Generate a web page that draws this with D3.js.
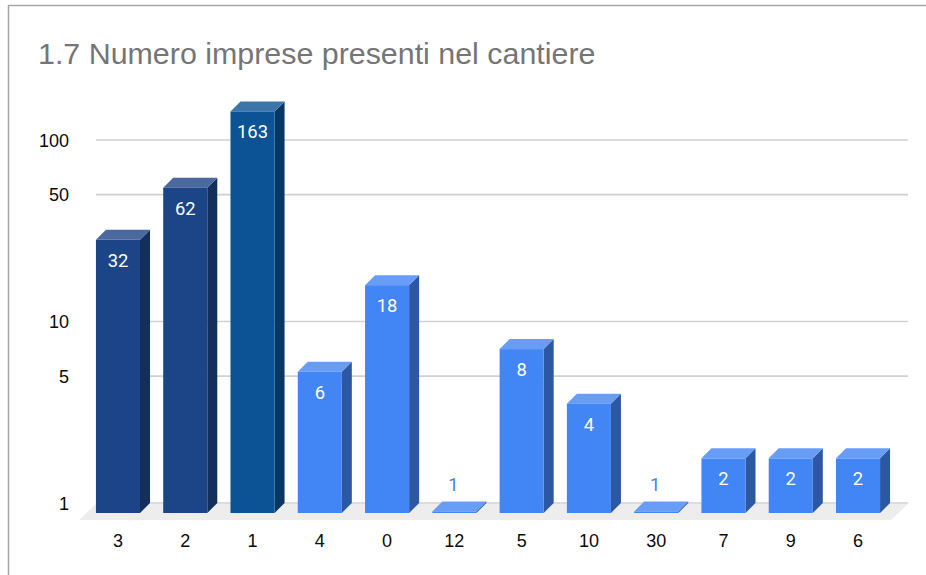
<!DOCTYPE html>
<html><head><meta charset="utf-8">
<script src="https://cdnjs.cloudflare.com/ajax/libs/d3/7.8.5/d3.min.js"></script>
<style>html,body{margin:0;padding:0;background:#fff}svg{display:block}</style></head>
<body><svg id="c" width="926" height="575"></svg>
<script>
const categories=["3","2","1","4","0","12","5","10","30","7","9","6"];
const values=[32,62,163,6,18,1,8,4,1,2,2,2];
const groups=["navy","navy","teal","blue","blue","blue","blue","blue","blue","blue","blue","blue"];
const yTicks=[1,5,10,50,100];
const titleText="1.7 Numero imprese presenti nel cantiere";
const palette={navy:["#1c4587","#4a6a9f","#142f5c"],teal:["#0b5394","#3c75a9","#073763"],blue:["#4285f4","#689df6","#2c57a3"]};

const svg=d3.select("#c");
const dx=10,dy=10;
const x=d3.scaleBand().domain(categories).range([84.5,891.5]).paddingInner(0.345).paddingOuter(0.17);
const y=d3.scaleLog().domain([1,100]).range([513,150]);

// frame
svg.append("path").attr("d","M8.5,575V5.5H926").attr("fill","none").attr("stroke","#a6a6a6").attr("stroke-width",1.5);
svg.append("text").attr("x",38).attr("y",64).attr("font-family","Liberation Sans").attr("font-size",30.4).attr("fill","#757575").text(titleText);

// floor
svg.append("path").attr("d",`M79,520L96,504H908L891,520Z`).attr("fill","#ededed");

// gridlines and y labels
yTicks.forEach(t=>{
  const yy=y(t)-dy;
  svg.append("line").attr("x1",96).attr("x2",908).attr("y1",yy).attr("y2",yy).attr("stroke","#d0d0d0").attr("stroke-width",1.6);
  svg.append("text").attr("x",69).attr("y",yy+6.5).attr("text-anchor","end").attr("font-family","Liberation Sans").attr("font-size",18).attr("fill","#0a0a0a").text(t);
});

// bars
const g=svg.selectAll(".bar").data(categories.map((c,i)=>({c,v:values[i],k:groups[i]}))).join("g");
g.each(function(d){
  const s=d3.select(this),x0=x(d.c),w=x.bandwidth(),top=Math.min(y(d.v),511.5),bot=513,p=palette[d.k];
  s.append("path").attr("d",`M${x0+w},${top}L${x0+w+dx},${top-dy}V${bot-dy}L${x0+w},${bot}Z`).attr("fill",p[2]);
  s.append("path").attr("d",`M${x0},${top}L${x0+dx},${top-dy}H${x0+w+dx}L${x0+w},${top}Z`).attr("fill",p[1]);
  s.append("rect").attr("x",x0).attr("y",top).attr("width",w).attr("height",bot-top).attr("fill",p[0]);
  const flat=d.v===1;
  s.append("text").attr("x",x0+w/2+(flat?-1:0)).attr("y",flat?491:top+27).attr("text-anchor","middle").attr("font-family","Roboto").attr("font-size",18.4).attr("fill",flat?p[0]:"#fff").text(d.v);
  s.append("text").attr("x",x0+w/2).attr("y",546.5).attr("text-anchor","middle").attr("font-family","Liberation Sans").attr("font-size",18).attr("fill","#0a0a0a").text(d.c);
});
</script></body></html>
